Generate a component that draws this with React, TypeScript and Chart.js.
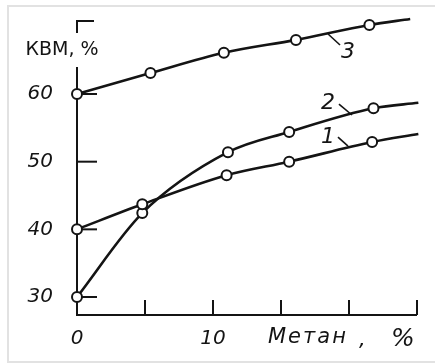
import React, { useEffect, useRef } from 'react';
import { Chart, registerables } from 'chart.js';

Chart.register(...registerables);

// ---- data ----
const curve1X = [0, 4.8, 11.0, 15.6, 21.7, 25.1];
const curve1Y = [40, 43.7, 48.0, 50.0, 52.9, 54.1];
const curve2X = [0, 4.8, 11.1, 15.6, 21.8, 25.1];
const curve2Y = [30, 42.4, 51.4, 54.4, 57.9, 58.7];
const curve3X = [0, 5.4, 10.8, 16.1, 21.5, 24.5];
const curve3Y = [60, 63.1, 66.1, 68.0, 70.2, 71.1];
const curveNames = ['1', '2', '3'];
const yTickValues = [30, 40, 50, 60];
const xTickMarks = [5, 10, 15, 20, 25];
const xTickLabels = [0, 10];
const yTitle = 'КВМ, %';
const xTitle = 'Метан';

// label anchors in data units: [labelX, labelY, leaderX1, leaderY1, leaderX2, leaderY2]
const curveLabelAnchors = [
  [18.46, 53.64, 19.19, 53.64, 19.93, 52.31],
  [18.46, 58.67, 19.26, 58.52, 20.22, 56.9],
  [19.93, 66.2, 18.46, 68.87, 19.34, 67.24],
];

const INK = '#141414';
const ITALIC = 'italic 21px "DejaVu Sans", sans-serif';

const toPts = (xs: number[], ys: number[]) => xs.map((x, i) => ({ x, y: ys[i] }));
const radii = (n: number) => Array.from({ length: n }, (_, i) => (i === n - 1 ? 0 : 5));

const drawPlugin = {
  id: 'customAxes',
  beforeDatasetsDraw(chart: any) {
    const { ctx, chartArea, scales } = chart;
    const xs = scales.x;
    const ys = scales.y;
    const left = chartArea.left;
    const bottom = chartArea.bottom;
    ctx.save();
    ctx.strokeStyle = INK;
    ctx.lineWidth = 2;
    ctx.lineCap = 'butt';
    // y axis (gap for title)
    ctx.beginPath();
    ctx.moveTo(left, bottom);
    ctx.lineTo(left, 67);
    ctx.stroke();
    // top corner mark
    ctx.beginPath();
    ctx.moveTo(left, 33);
    ctx.lineTo(left, chartArea.top + 1);
    ctx.lineTo(left + 17, chartArea.top + 1);
    ctx.stroke();
    // x axis
    ctx.beginPath();
    ctx.moveTo(left - 1, bottom);
    ctx.lineTo(xs.getPixelForValue(xTickMarks[xTickMarks.length - 1]), bottom);
    ctx.stroke();
    // x tick marks (inward)
    xTickMarks.forEach((v) => {
      const px = xs.getPixelForValue(v);
      ctx.beginPath();
      ctx.moveTo(px, bottom);
      ctx.lineTo(px, bottom - 15);
      ctx.stroke();
    });
    // y tick marks (inward)
    yTickValues.forEach((v) => {
      const py = ys.getPixelForValue(v);
      ctx.beginPath();
      ctx.moveTo(left, py);
      ctx.lineTo(left + 20, py);
      ctx.stroke();
    });
    ctx.restore();
  },
  afterDraw(chart: any) {
    const { ctx, scales } = chart;
    const xs = scales.x;
    const ys = scales.y;
    ctx.save();
    ctx.fillStyle = INK;
    ctx.strokeStyle = INK;
    ctx.lineWidth = 1.6;
    ctx.textAlign = 'center';
    ctx.textBaseline = 'middle';
    // y title
    ctx.font = '19px "DejaVu Sans", sans-serif';
    ctx.fillText(yTitle, 62, 50);
    // x title
    ctx.font = ITALIC;
    ctx.textAlign = 'left';
    (ctx as any).letterSpacing = '2px';
    ctx.fillText(xTitle, 268, 338);
    (ctx as any).letterSpacing = '0px';
    ctx.fillText(',', 359, 341);
    ctx.textAlign = 'center';
    ctx.font = 'italic 25px "DejaVu Sans", sans-serif';
    ctx.fillText('%', 403, 339);
    // curve labels and leaders
    curveLabelAnchors.forEach((a, i) => {
      ctx.font = 'italic 22px "DejaVu Sans", sans-serif';
      ctx.fillText(curveNames[i], xs.getPixelForValue(a[0]), ys.getPixelForValue(a[1]));
      ctx.beginPath();
      ctx.moveTo(xs.getPixelForValue(a[2]), ys.getPixelForValue(a[3]));
      ctx.lineTo(xs.getPixelForValue(a[4]), ys.getPixelForValue(a[5]));
      ctx.stroke();
    });
    ctx.restore();
  },
};

export default function App() {
  const ref = useRef<HTMLCanvasElement | null>(null);
  useEffect(() => {
    if (!ref.current) return;
    const ds = (xs: number[], ys: number[]) => ({
      data: toPts(xs, ys),
      borderColor: INK,
      borderWidth: 2.6,
      pointRadius: radii(xs.length),
      pointBorderWidth: 2,
      pointBackgroundColor: '#ffffff',
      pointBorderColor: INK,
      cubicInterpolationMode: 'monotone' as const,
      fill: false,
      clip: false as any,
    });
    const chart = new Chart(ref.current, {
      type: 'line',
      data: {
        datasets: [ds(curve1X, curve1Y), ds(curve2X, curve2Y), ds(curve3X, curve3Y)],
      },
      options: {
        responsive: false,
        animation: false,
        layout: { padding: { left: 0, right: 18, top: 20, bottom: 0 } },
        plugins: { legend: { display: false }, tooltip: { enabled: false } },
        scales: {
          x: {
            type: 'linear',
            min: 0,
            max: 25,
            grid: { display: false, drawTicks: false },
            border: { display: false },
            afterBuildTicks: (axis: any) => {
              axis.ticks = xTickLabels.map((v) => ({ value: v }));
            },
            afterFit: (axis: any) => {
              axis.height = 48;
              axis.paddingLeft = 0;
              axis.paddingRight = 0;
            },
            ticks: {
              padding: 12,
              color: INK,
              maxRotation: 0,
              font: { family: '"DejaVu Sans", sans-serif', size: 20, style: 'italic' },
            },
          },
          y: {
            type: 'linear',
            min: 27.34,
            max: 70.94,
            grid: { display: false, drawTicks: false },
            border: { display: false },
            afterBuildTicks: (axis: any) => {
              axis.ticks = yTickValues.map((v) => ({ value: v }));
            },
            afterFit: (axis: any) => {
              axis.width = 77;
              axis.paddingTop = 0;
              axis.paddingBottom = 0;
            },
            ticks: {
              padding: 24,
              color: INK,
              font: { family: '"DejaVu Sans", sans-serif', size: 20, style: 'italic' },
            },
          },
        },
      },
      plugins: [drawPlugin],
    });
    return () => chart.destroy();
  }, []);

  return (
    <div style={{ position: 'fixed', left: 0, top: 0, width: 435, height: 363, background: '#fff', overflow: 'hidden' }}>
      <div
        style={{
          position: 'absolute',
          left: 7,
          top: 5,
          width: 440,
          height: 358,
          boxSizing: 'border-box',
          border: '2px solid #e2e2e2',
        }}
      />
      <canvas ref={ref} width={435} height={363} style={{ position: 'absolute', left: 0, top: 0 }} />
    </div>
  );
}
